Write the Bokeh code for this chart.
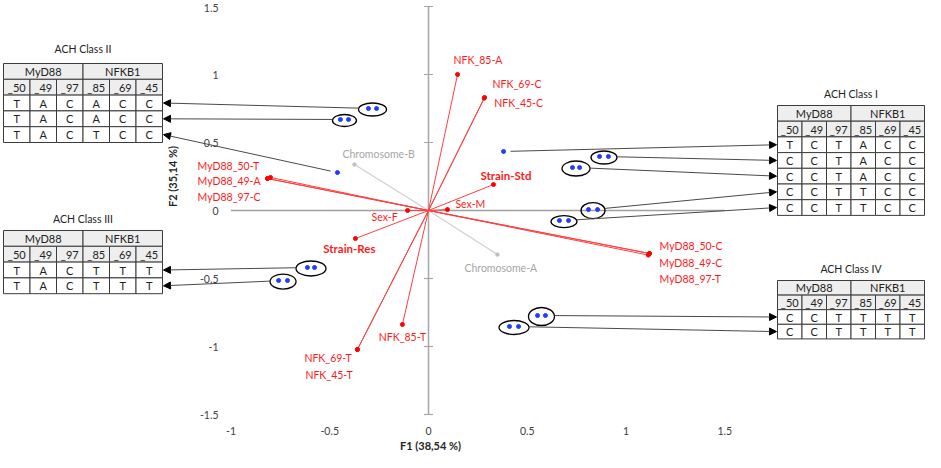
import math
from bokeh.plotting import figure
from bokeh.models import Range1d, Arrow, NormalHead, ColumnDataSource
from bokeh.core.properties import value
from bokeh.embed import file_html
from bokeh.resources import INLINE

# ---------------- data ----------------
x_ticks = [-1, -0.5, 0, 0.5, 1, 1.5]
x_tick_labels = ["-1", "-0.5", "0", "0.5", "1", "1.5"]
y_ticks = [-1.5, -1, -0.5, 0, 0.5, 1, 1.5]
y_tick_labels = ["-1.5", "-1", "-0.5", "0", "0.5", "1", "1.5"]
x_title = "F1 (38,54 %)"
y_title = "F2 (35,14 %)"

var_names = ["NFK_85-A", "NFK_69-C", "NFK_45-C", "Strain-Std", "Sex-M",
             "MyD88_50-C", "MyD88_49-C", "MyD88_97-T",
             "MyD88_50-T", "MyD88_49-A", "MyD88_97-C",
             "Sex-F", "Strain-Res", "NFK_85-T", "NFK_69-T", "NFK_45-T"]
var_x = [0.147, 0.284, 0.282, 0.329, 0.096,
         1.119, 1.113, 1.119,
         -0.815, -0.800, -0.815,
         -0.106, -0.370, -0.132, -0.360, -0.360]
var_y = [1.000, 0.831, 0.826, 0.191, 0.007,
         -0.316, -0.328, -0.316,
         0.235, 0.243, 0.235,
         0.000, -0.206, -0.838, -1.022, -1.022]

sup_names = ["Chromosome-B", "Chromosome-A"]
sup_x = [-0.375, 0.349]
sup_y = [0.338, -0.324]

obs_x = [-0.304, -0.263, -0.446, -0.405, -0.461,
         0.380, 0.866, 0.911, 0.729, 0.765, 0.810, 0.856, 0.663, 0.709,
         -0.613, -0.577, -0.759, -0.714,
         0.552, 0.592, 0.410, 0.456]
obs_y = [0.750, 0.750, 0.669, 0.669, 0.279,
         0.434, 0.397, 0.397, 0.316, 0.316, 0.007, 0.007, -0.074, -0.074,
         -0.419, -0.419, -0.515, -0.515,
         -0.772, -0.772, -0.853, -0.853]
obs_group = [0, 0, 1, 1, 2,
             3, 4, 4, 5, 5, 6, 6, 7, 7,
             8, 8, 9, 9,
             10, 10, 11, 11]
group_class = ["II", "II", "II", "I", "I", "I", "I", "I", "III", "III", "IV", "IV"]
group_row = [0, 1, 2, 0, 1, 2, 3, 4, 0, 1, 0, 1]

genes = ["MyD88", "NFKB1"]
snps = ["_50", "_49", "_97", "_85", "_69", "_45"]
class_I = [["T", "C", "T", "A", "C", "C"],
           ["C", "C", "T", "A", "C", "C"],
           ["C", "C", "T", "A", "C", "C"],
           ["C", "C", "T", "T", "C", "C"],
           ["C", "C", "T", "T", "C", "C"]]
class_II = [["T", "A", "C", "A", "C", "C"],
            ["T", "A", "C", "A", "C", "C"],
            ["T", "A", "C", "T", "C", "C"]]
class_III = [["T", "A", "C", "T", "T", "T"],
             ["T", "A", "C", "T", "T", "T"]]
class_IV = [["C", "C", "T", "T", "T", "T"],
            ["C", "C", "T", "T", "T", "T"]]

# ---------------- layout (canvas pixels) ----------------
W, H = 925, 452
X0PX, XS = 428.0, 197.5
Y0PX, YS = 210.0, 136.0


def dx(px):
    return (px - X0PX) / XS


def dy(py):
    return (Y0PX - py) / YS


def tx(x):
    return X0PX + x * XS


def ty(y):
    return Y0PX - y * YS


FONT = value("Lato")
RED = "#ff1a1a"

p = figure(width=W, height=H, output_backend="svg", toolbar_location=None, tools="",
           x_range=Range1d(dx(0), dx(W)), y_range=Range1d(dy(H), dy(0)),
           x_axis_location=None, y_axis_location=None, min_border=0,
           outline_line_color=None, background_fill_color="white",
           border_fill_color="white")
p.grid.visible = False

# axes
p.segment(x0=[0], y0=[y_ticks[0]], x1=[0], y1=[y_ticks[-1]], line_color="#a6a6a6", line_width=1.5)
p.segment(x0=[x_ticks[0]], y0=[0], x1=[x_ticks[-1]], y1=[0], line_color="#a0a0a0", line_width=1.5)
p.scatter(x=[0] * len(y_ticks), y=y_ticks, marker="dash", size=9, line_color="#a6a6a6", line_width=1.2)

ylab_y = [dy(max(ty(v), 7)) for v in y_ticks]
p.text(x=[dx(218)] * len(y_ticks), y=ylab_y, text=y_tick_labels, text_font=FONT,
       text_font_size="10.5px", text_align="right", text_baseline="middle", text_color="#404040")
p.text(x=x_ticks, y=[dy(430)] * len(x_ticks), text=x_tick_labels, text_font=FONT,
       text_font_size="10.5px", text_align="center", text_baseline="middle", text_color="#404040")
p.text(x=[dx(430)], y=[dy(445)], text=[x_title], text_font=FONT, text_font_size="11px",
       text_font_style="bold", text_align="center", text_baseline="middle", text_color="#262626")
p.text(x=[dx(172)], y=[dy(176)], text=[y_title], text_font=FONT, text_font_size="11px",
       text_font_style="bold", text_align="center", text_baseline="middle", text_color="#262626",
       angle=math.pi / 2)

# supplementary (gray) vectors
p.segment(x0=[0] * len(sup_x), y0=[0] * len(sup_x), x1=sup_x, y1=sup_y, line_color="#d0d0d0", line_width=1.2)
p.scatter(x=sup_x, y=sup_y, size=3.5, color="#c0c0c0")

# variable (red) vectors
vsrc = ColumnDataSource(dict(x=var_x, y=var_y, x0=[0] * len(var_x), y0=[0] * len(var_x)))
p.segment(x0="x0", y0="y0", x1="x", y1="y", source=vsrc, line_color="#ff4040", line_width=1)
p.scatter(x="x", y="y", source=vsrc, size=4, color="#ff0000")

# label offsets in pixels: (dx, dy, align, bold)
lab_style = {
    "NFK_85-A": (-4, -15, "left", False),
    "NFK_69-C": (8, -13, "left", False),
    "NFK_45-C": (10, 5, "left", False),
    "Strain-Std": (-13, -9, "left", True),
    "Sex-M": (8, -6, "left", False),
    "MyD88_50-C": (10, -7, "left", False),
    "MyD88_49-C": (11, 8, "left", False),
    "MyD88_97-T": (10, 26, "left", False),
    "MyD88_50-T": (-70, -13, "left", False),
    "MyD88_49-A": (-73, 4, "left", False),
    "MyD88_97-C": (-70, 18, "left", False),
    "Sex-F": (-10, 6, "right", False),
    "Strain-Res": (-6, 10, "center", True),
    "NFK_85-T": (0, 13, "center", False),
    "NFK_69-T": (-53, 9, "left", False),
    "NFK_45-T": (-52, 26, "left", False),
}
for bold in (False, True):
    lx, ly, lt, la = [], [], [], []
    for n, x, y in zip(var_names, var_x, var_y):
        ox, oy, al, b = lab_style[n]
        if b != bold:
            continue
        lx.append(dx(tx(x) + ox))
        ly.append(dy(ty(y) + oy))
        lt.append(n)
        la.append(al)
    src = ColumnDataSource(dict(x=lx, y=ly, text=lt, align=la))
    p.text(x="x", y="y", text="text", text_align="align", source=src, text_font=FONT,
           text_font_size="11.5px" if bold else "10.5px", text_font_style="bold" if bold else "normal",
           text_baseline="middle", text_color=RED)

sup_style = {"Chromosome-B": (-12, -11), "Chromosome-A": (-33, 13)}
p.text(x=[dx(tx(x) + sup_style[n][0]) for n, x in zip(sup_names, sup_x)],
       y=[dy(ty(y) + sup_style[n][1]) for n, y in zip(sup_names, sup_y)],
       text=sup_names, text_font=FONT, text_font_size="10.5px", text_align="left",
       text_baseline="middle", text_color="#a6a6a6")

# ---------------- tables ----------------
tables = {
    "I": dict(rows=class_I, left=777, right=924, top=105, rowh=15.7, title="ACH Class I", title_py=93, side="right"),
    "II": dict(rows=class_II, left=3, right=162, top=63, rowh=15.8, title="ACH Class II", title_py=48, side="left"),
    "III": dict(rows=class_III, left=3, right=162, top=230, rowh=15.8, title="ACH Class III", title_py=218, side="left"),
    "IV": dict(rows=class_IV, left=777, right=924, top=280, rowh=14.6, title="ACH Class IV", title_py=268, side="right"),
}
qL, qR, qT, qB, qF = [], [], [], [], []
cx, cy, ct = [], [], []
titx, tity, titt = [], [], []
for key, t in tables.items():
    L, R, T, h = t["left"], t["right"], t["top"], t["rowh"]
    cw = (R - L) / 6.0
    for gi, g in enumerate(genes):
        l, r = L + 3 * cw * gi, L + 3 * cw * (gi + 1)
        qL.append(dx(l)); qR.append(dx(r)); qT.append(dy(T)); qB.append(dy(T + h)); qF.append("#eeeeee")
        cx.append(dx((l + r) / 2)); cy.append(dy(T + h / 2)); ct.append(g)
    for ci, s in enumerate(snps):
        l, r = L + cw * ci, L + cw * (ci + 1)
        qL.append(dx(l)); qR.append(dx(r)); qT.append(dy(T + h)); qB.append(dy(T + 2 * h)); qF.append("#eeeeee")
        cx.append(dx((l + r) / 2)); cy.append(dy(T + 1.5 * h)); ct.append(s)
    for ri, row in enumerate(t["rows"]):
        for ci, v in enumerate(row):
            l, r = L + cw * ci, L + cw * (ci + 1)
            top = T + (2 + ri) * h
            qL.append(dx(l)); qR.append(dx(r)); qT.append(dy(top)); qB.append(dy(top + h)); qF.append("white")
            cx.append(dx((l + r) / 2)); cy.append(dy(top + h / 2)); ct.append(v)
    titx.append(dx((L + R) / 2)); tity.append(dy(t["title_py"])); titt.append(t["title"])

p.quad(left="l", right="r", top="t", bottom="b", fill_color="f",
       source=ColumnDataSource(dict(l=qL, r=qR, t=qT, b=qB, f=qF)),
       line_color="#3c3c3c", line_width=1)
p.text(x=cx, y=cy, text=ct, text_font=FONT, text_font_size="11px", text_align="center",
       text_baseline="middle", text_color="#222222")
p.text(x=titx, y=tity, text=titt, text_font=FONT, text_font_size="10.5px", text_align="center",
       text_baseline="middle", text_color="#222222")

# ---------------- observations, ellipses, arrows ----------------
ell_size = {0: (28, 13), 1: (24, 12), 4: (26, 13), 5: (28, 15), 6: (24, 16),
            7: (26, 12), 8: (30, 15), 9: (26, 15), 10: (26, 18), 11: (30, 14)}
ex, ey, ew, eh = [], [], [], []
ax0, ay0, ax1, ay1 = [], [], [], []
for g in range(len(group_class)):
    pts = [(tx(x), ty(y)) for x, y, gg in zip(obs_x, obs_y, obs_group) if gg == g]
    mx = sum(q[0] for q in pts) / len(pts)
    my = sum(q[1] for q in pts) / len(pts)
    t = tables[group_class[g]]
    rr = group_row[g]
    tyy = t["top"] + (2 + rr + 0.5) * t["rowh"]
    txx = t["left"] - 1 if t["side"] == "right" else t["right"] + 1
    ddx, ddy = txx - mx, tyy - my
    if g in ell_size:
        w, h = ell_size[g]
        ex.append(dx(mx)); ey.append(dy(my + 1)); ew.append(w); eh.append(h)
        k = 1.0 / math.sqrt((ddx / (w / 2)) ** 2 + (ddy / (h / 2)) ** 2)
    else:
        k = 7.0 / math.hypot(ddx, ddy)
    ax0.append(dx(mx + k * ddx)); ay0.append(dy(my + k * ddy))
    ax1.append(dx(txx)); ay1.append(dy(tyy))

p.add_layout(Arrow(source=ColumnDataSource(dict(x0=ax0, y0=ay0, x1=ax1, y1=ay1)),
                   x_start="x0", y_start="y0", x_end="x1", y_end="y1",
                   line_color="#4a4a4a", line_width=1,
                   end=NormalHead(size=7, fill_color="black", line_color="black", line_width=1)))
p.ellipse(x=ex, y=ey, width=ew, height=eh, width_units="screen", height_units="screen",
          fill_color=None, line_color="black", line_width=1.3)
p.scatter(x=obs_x, y=obs_y, size=4, color="#1f3cff")

open("out.html", "w").write(file_html(p, INLINE))
